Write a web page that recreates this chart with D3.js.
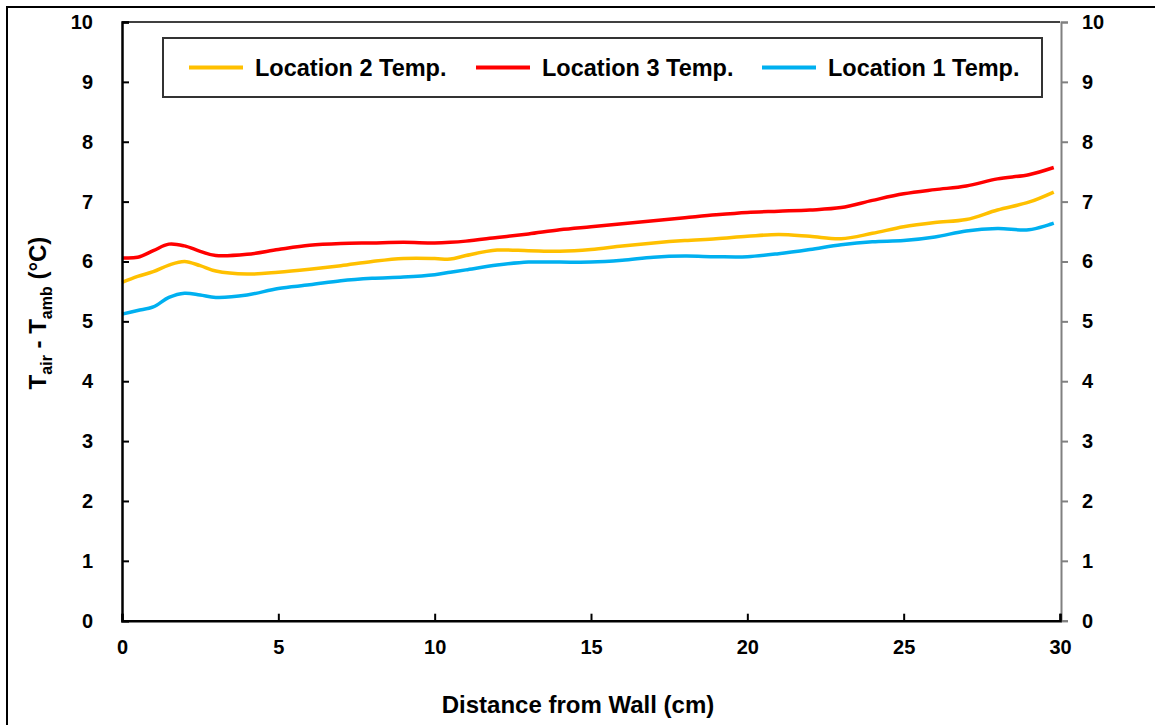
<!DOCTYPE html>
<html><head><meta charset="utf-8">
<script src="https://cdn.jsdelivr.net/npm/d3@7"></script>
<style>body{margin:0;background:#fff;} svg{display:block;font-family:Arial,"Liberation Sans",sans-serif;font-weight:bold;}</style>
</head><body>
<svg id="c" width="1155" height="725"></svg>
<script>
const xTicks = [0,5,10,15,20,25,30];
const yTicks = [0,1,2,3,4,5,6,7,8,9,10];
const seriesNames = ["Location 2 Temp.","Location 3 Temp.","Location 1 Temp."];
const seriesColors = ["#FFC000","#FF0000","#00B0F0"];
const xVals = [0,0.5,1,1.5,2,2.5,3,4,5,6,7,8,9,10,10.5,11,12,13,14,15,16,17,18,19,20,21,22,23,24,25,26,27,28,29,29.8];
const loc3 = [6.06,6.07,6.18,6.29,6.26,6.17,6.10,6.12,6.20,6.27,6.30,6.31,6.32,6.31,6.32,6.34,6.40,6.46,6.53,6.58,6.63,6.68,6.73,6.78,6.82,6.84,6.86,6.90,7.02,7.13,7.20,7.26,7.38,7.45,7.57];
const loc2 = [5.65,5.75,5.83,5.94,6.00,5.93,5.84,5.79,5.82,5.87,5.93,6.00,6.05,6.05,6.04,6.10,6.19,6.18,6.17,6.20,6.26,6.31,6.35,6.38,6.42,6.45,6.42,6.38,6.47,6.58,6.65,6.70,6.86,6.99,7.16];
const loc1 = [5.12,5.18,5.24,5.40,5.47,5.44,5.40,5.44,5.55,5.61,5.68,5.72,5.74,5.78,5.82,5.86,5.94,5.99,5.99,5.99,6.02,6.07,6.09,6.08,6.08,6.13,6.20,6.28,6.33,6.35,6.41,6.51,6.55,6.53,6.64];
const seriesData = [loc2, loc3, loc1];

const svg = d3.select("#c");
const L=122, R=1060, T=22, B=620.7;
const x = d3.scaleLinear().domain([0,30]).range([L,R]);
const y = d3.scaleLinear().domain([0,10]).range([B,T]);

// outer frame
svg.append("rect").attr("x",7).attr("y",7).attr("width",1160).attr("height",730)
  .attr("fill","none").attr("stroke","#000").attr("stroke-width",2);

// top border of plot
svg.append("line").attr("x1",L).attr("x2",R).attr("y1",T).attr("y2",T).attr("stroke","#000").attr("stroke-width",1.5);

// series
const line = d3.line().x((d,i)=>x(xVals[i])).y(d=>y(d)).curve(d3.curveCatmullRom.alpha(0.5));
seriesData.forEach((s,k)=>{
  svg.append("path").attr("d",line(s)).attr("fill","none").attr("stroke",seriesColors[k]).attr("stroke-width",3.5);
});

// left axis
const gl = svg.append("g").attr("transform",`translate(${L},0)`)
  .call(d3.axisLeft(y).tickValues(yTicks).tickSize(-7).tickPadding(29).tickFormat(d3.format("d")));
gl.select(".domain").attr("stroke","#000").attr("stroke-width",2.5);
gl.selectAll(".tick line").attr("stroke","#000").attr("stroke-width",2);
gl.selectAll("text").attr("font-size",20).attr("font-weight","bold").attr("font-family","Arial,'Liberation Sans',sans-serif").attr("fill","#000");

// right axis
const gr = svg.append("g").attr("transform",`translate(${R+1},0)`)
  .call(d3.axisRight(y).tickValues(yTicks).tickSize(7).tickPadding(14).tickFormat(d3.format("d")));
gr.select(".domain").attr("stroke","#808080").attr("stroke-width",2);
gr.selectAll(".tick line").attr("stroke","#808080").attr("stroke-width",2);
gr.selectAll("text").attr("font-size",20).attr("font-weight","bold").attr("font-family","Arial,'Liberation Sans',sans-serif").attr("fill","#000");

// bottom axis
const gb = svg.append("g").attr("transform",`translate(0,${B})`)
  .call(d3.axisBottom(x).tickValues(xTicks).tickSize(-7).tickPadding(19).tickFormat(d3.format("d")));
gb.select(".domain").attr("stroke","#000").attr("stroke-width",2.5);
gb.selectAll(".tick line").attr("stroke","#000").attr("stroke-width",2);
gb.selectAll("text").attr("font-size",20).attr("font-weight","bold").attr("font-family","Arial,'Liberation Sans',sans-serif").attr("fill","#000");

// x title
svg.append("text").attr("x",578).attr("y",713).attr("text-anchor","middle")
  .attr("font-size",24).attr("fill","#000").text("Distance from Wall (cm)");

// y title
const yt = svg.append("text").attr("transform","translate(46,313) rotate(-90)").attr("text-anchor","middle")
  .attr("font-size",24).attr("fill","#000");
yt.append("tspan").text("T");
yt.append("tspan").attr("font-size",16).attr("dy",6).text("air");
yt.append("tspan").attr("dy",-6).text(" - T");
yt.append("tspan").attr("font-size",16).attr("dy",6).text("amb");
yt.append("tspan").attr("dy",-6).text(" (°C)");

// legend
svg.append("rect").attr("x",163).attr("y",38).attr("width",879).attr("height",59)
  .attr("fill","#fff").attr("stroke","#333").attr("stroke-width",2);
const legX = [189,476,762];
seriesNames.forEach((n,k)=>{
  svg.append("line").attr("x1",legX[k]).attr("x2",legX[k]+54).attr("y1",67.5).attr("y2",67.5)
    .attr("stroke",seriesColors[k]).attr("stroke-width",4);
  svg.append("text").attr("x",legX[k]+66).attr("y",76).attr("font-size",23.5).attr("fill","#000").text(n);
});
</script>
</body></html>
